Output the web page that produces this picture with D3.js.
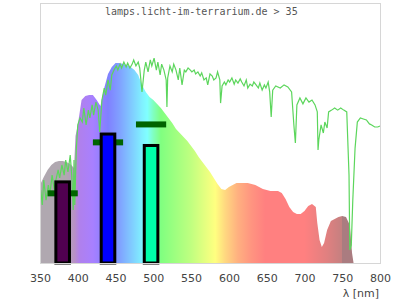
<!DOCTYPE html>
<html>
<head>
<meta charset="utf-8">
<script src="https://d3js.org/d3.v7.min.js"></script>
<style>
  body { margin: 0; background: #fff; }
</style>
</head>
<body>
<div id="chart"></div>
<script>
// lamp spectrum (relative intensity, %)
var lampNm  = [350,355,360,365,370,375,380,385,390,395,397,400,405,410,415,420,425,430,435,440,445,450,455,460,465,470,475,480,485,490,495,500,505,510,515,520,525,530,535,540,545,550,555,560,565,570,575,580,585,590,595,600,605,610,615,620,625,630,635,640,645,650,655,660,665,670,675,680,685,690,695,700,705,710,715,717,720,723,726,730,735,740,745,750,755,760,763,765];
var lampVal = [30.0,33.1,35.8,37.7,38.8,39.2,39.2,38.8,38.1,36.5,48.8,53.1,62.7,64.2,64.6,64.6,62.7,60.4,67.3,72.7,75.4,76.9,76.9,76.5,76.2,75.4,74.2,72.3,68.5,65.8,63.8,62.7,61.2,59.6,57.7,55.8,53.8,51.5,50.0,48.5,46.9,45.0,43.1,40.8,38.8,36.9,35.0,32.7,30.4,28.5,28.1,29.2,30.0,30.8,30.8,30.8,30.8,30.4,30.0,29.2,28.5,28.1,27.7,27.7,27.7,26.9,24.6,21.5,19.6,18.8,18.8,20.0,21.9,22.7,21.5,15.4,8.8,6.2,7.7,12.7,16.2,16.9,17.7,18.1,17.7,14.6,3.8,0];

// sunlight reference (relative, %)
var sunNm  = [351,353,355,358,361,363,366,369,371,374,376,379,382,384,387,390,392,394,395,396,398,400,403,406,408,411,414,416,419,421,424,427,429,432,435,437,440,443,445,448,451,453,456,458,461,464,466,469,472,474,477,480,482,485,488,490,493,496,498,501,504,506,509,511,514,517,518,519,522,525,527,530,533,535,538,541,543,546,549,551,554,556,559,562,564,567,570,572,575,578,580,583,585,588,589,591,594,596,599,601,604,607,609,612,615,617,620,623,625,628,631,633,636,639,641,644,647,649,652,654,656,658,662,668,673,678,683,686,688,690,694,698,702,706,710,714,717,718,719,722,725,727,730,732,736,740,744,748,752,756,759,760,762,764,767,770,774,778,782,786,789,793,797,800];
var sunVal = [28.1,22.3,31.9,24.2,30.0,26.2,33.8,28.1,31.9,35.8,32.7,37.7,33.8,39.6,35.0,41.5,33.8,20.4,39.6,22.3,43.5,53.1,55.8,54.2,59.6,53.1,58.8,55.8,60.8,56.9,61.9,58.8,50.4,62.7,67.3,64.6,70.4,66.5,72.3,74.2,75.8,74.2,76.5,75.0,77.3,75.4,76.9,75.0,76.5,78.1,75.8,77.3,75.0,65.8,74.2,77.3,73.5,78.1,75.8,78.8,74.2,77.3,72.3,76.5,74.2,70.4,60.0,71.2,75.8,73.5,76.5,74.2,70.4,75.0,68.5,74.2,73.5,75.0,74.2,73.5,74.2,72.7,73.5,71.9,73.1,70.4,71.2,68.5,72.7,71.9,70.4,71.2,73.5,70.4,61.5,68.1,69.6,68.5,70.4,69.6,71.2,68.8,70.4,69.2,70.8,69.6,68.1,70.4,67.3,68.8,68.1,69.6,68.5,67.3,69.2,66.5,68.5,67.3,69.6,65.8,56.2,66.5,68.1,67.3,68.5,67.7,65.8,53.1,46.2,60.8,63.5,61.2,63.5,61.9,62.7,60.8,58.1,43.5,47.3,53.1,50.0,54.2,51.9,58.1,58.8,59.6,58.8,59.6,58.8,58.1,33.8,5.0,6.9,24.2,44.2,54.2,55.8,55.4,55.0,53.5,53.1,52.3,52.3,52.7];

// LED bars: peak wavelength, measured level, reference level
var ledNm     = [380, 440, 497];
var ledVal    = [31.2, 49.6, 45.2];
var ledRef    = [26.8, 46.4, 53.3];
var ledColors = ["#500050", "#0000ff", "#00ffaa"];

var xTicks = [350,400,450,500,550,600,650,700,750,800];

// colour ramp of the spectrum fill
var rampNm  = [350,385,396,402,420,440,455,470,485,492,500,510,530,550,570,582,595,612,630,648,700,730,750,750,765];
var rampCol = ["#b0a8b0","#b0a8b0","#b890c8","#b080ec","#a880ff","#8080ff","#80a0ff","#80c8ff","#80f0ff","#80ffff","#80ffc0","#80ff80","#a0ff80","#c0ff80","#e8ff80","#ffff80","#ffd880","#ffb080","#ff9480","#ff8080","#ff8080","#e08080","#c48080","#aa7c80","#aa7c80"];

var W = 400, H = 300;
var mLeft = 40, mRight = 380, mTop = 3, mBottom = 263;

var svg = d3.select("#chart").append("svg")
    .attr("width", W)
    .attr("height", H);

var x = d3.scaleLinear().domain([350, 800]).range([mLeft, mRight]);
var y = d3.scaleLinear().domain([0, 100]).range([mBottom, mTop]);

// gradient along wavelength
var grad = svg.append("defs").append("linearGradient")
    .attr("id", "spec")
    .attr("gradientUnits", "userSpaceOnUse")
    .attr("x1", x(350)).attr("x2", x(800))
    .attr("y1", 0).attr("y2", 0);
rampNm.forEach(function (nm, i) {
    grad.append("stop")
        .attr("offset", (nm - 350) / 450)
        .attr("stop-color", rampCol[i]);
});

var lamp = lampNm.map(function (d, i) { return [d, lampVal[i]]; });
svg.append("path")
    .datum(lamp)
    .attr("fill", "url(#spec)")
    .attr("d", d3.area()
        .x(function (d) { return x(d[0]); })
        .y0(y(0))
        .y1(function (d) { return y(d[1]); }));

// sunlight line
var sun = sunNm.map(function (d, i) { return [d, sunVal[i]]; });
svg.append("path")
    .datum(sun)
    .attr("fill", "none")
    .attr("stroke", "#5cd65c")
    .attr("stroke-width", 1.2)
    .attr("d", d3.line()
        .x(function (d) { return x(d[0]); })
        .y(function (d) { return y(d[1]); }));

// reference markers (drawn under the bars)
svg.selectAll(".ref").data(ledNm).enter().append("rect")
    .attr("class", "ref")
    .attr("x", function (d) { return x(d - 20); })
    .attr("width", function (d) { return x(d + 20) - x(d - 20); })
    .attr("y", function (d, i) { return y(ledRef[i]) - 3; })
    .attr("height", 6)
    .attr("fill", "#006400");

svg.selectAll(".led").data(ledNm).enter().append("rect")
    .attr("class", "led")
    .attr("x", function (d) { return x(d - 9); })
    .attr("width", function (d) { return x(d + 9) - x(d - 9); })
    .attr("y", function (d, i) { return y(ledVal[i]); })
    .attr("height", function (d, i) { return y(0) - y(ledVal[i]); })
    .attr("fill", function (d, i) { return ledColors[i]; })
    .attr("stroke", "#000")
    .attr("stroke-width", 3);

// frame
svg.append("rect")
    .attr("x", mLeft + 0.5).attr("y", mTop + 0.5)
    .attr("width", mRight - mLeft).attr("height", mBottom - mTop)
    .attr("fill", "none")
    .attr("stroke", "#d6d6d6")
    .attr("stroke-width", 1);

// x axis
var ax = svg.append("g")
    .attr("transform", "translate(0," + mBottom + ")")
    .call(d3.axisBottom(x).tickValues(xTicks).tickSize(0).tickPadding(11).tickFormat(d3.format("d")));
ax.select(".domain").remove();
ax.selectAll("text")
    .attr("fill", "#444")
    .style("font-family", "DejaVu Sans, sans-serif")
    .style("font-size", "11px");

svg.append("text")
    .attr("x", 379).attr("y", 297)
    .attr("text-anchor", "end")
    .attr("fill", "#444")
    .style("font-family", "DejaVu Sans, sans-serif")
    .style("font-size", "11px")
    .text("λ [nm]");

svg.append("text")
    .attr("x", 105).attr("y", 15)
    .attr("fill", "#555")
    .style("font-family", "DejaVu Sans Mono, monospace")
    .style("font-size", "10px")
    .text("lamps.licht-im-terrarium.de > 35");
</script>
</body>
</html>
